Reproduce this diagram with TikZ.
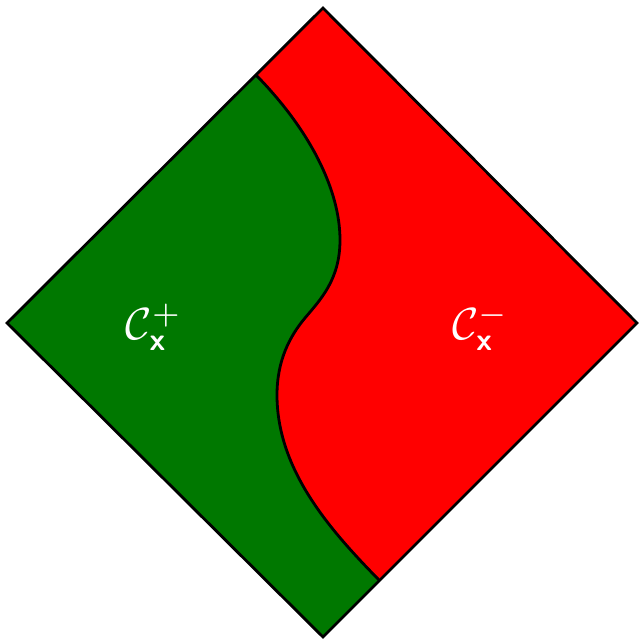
\documentclass[tikz,border=0pt]{standalone}
\usepackage{amsmath,amssymb,bm}
\definecolor{dgreen}{RGB}{0,120,0}
\begin{document}
\begin{tikzpicture}[x=1pt,y=-1pt,
  edge/.style={draw=black,line width=2.8pt,line join=miter},
  lbl/.style={text=white,scale=4.5,inner sep=0pt}]
\useasboundingbox (0,0) rectangle (639,640);
\coordinate (T) at (323,8);
\coordinate (L) at (7,323);
\coordinate (B) at (323,637);
\coordinate (R) at (637,323);
\coordinate (P) at (256,75);
\coordinate (Q) at (379,580);
\fill[red] (T) -- (R) -- (B) -- (L) -- cycle;
\fill[dgreen] (P) .. controls (310,130) and (340,190) .. (340,240)
  .. controls (340,280) and (320,300) .. (305,318)
  .. controls (290,336) and (277,360) .. (277,395)
  .. controls (277,470) and (330,530) .. (Q) -- (B) -- (L) -- cycle;
\draw[edge,line cap=butt] (P) .. controls (310,130) and (340,190) .. (340,240)
  .. controls (340,280) and (320,300) .. (305,318)
  .. controls (290,336) and (277,360) .. (277,395)
  .. controls (277,470) and (330,530) .. (Q);
\draw[edge] (T) -- (R) -- (B) -- (L) -- cycle;
\node[lbl] (cp) at (154,327) {$\mathcal{C}_{\textsf{\textbf{x}}}^{+}$};
\node[lbl] (cm) at (481,327) {$\mathcal{C}_{\textsf{\textbf{x}}}^{-}$};
\end{tikzpicture}
\end{document}
